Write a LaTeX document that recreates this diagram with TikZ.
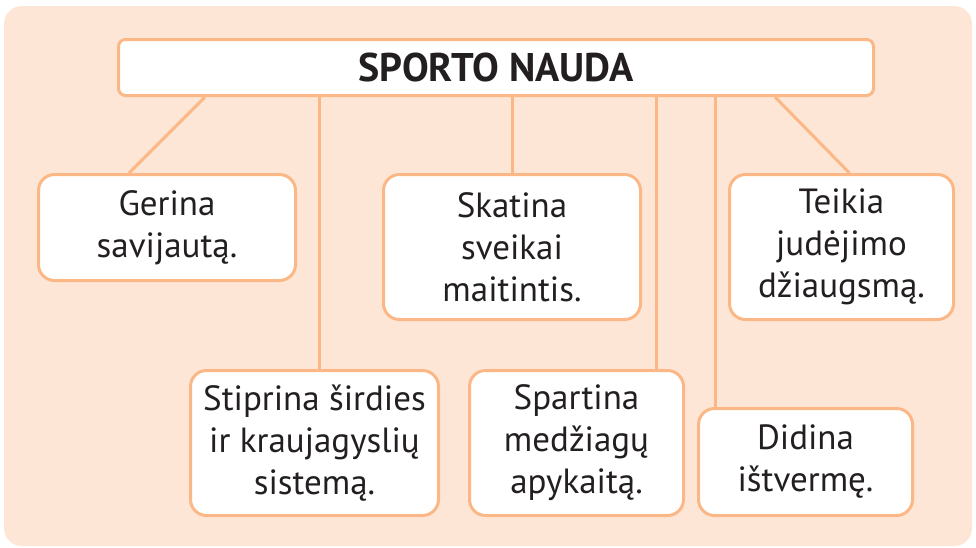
\documentclass[tikz,border=0pt]{standalone}
\usepackage{fontspec}
\setmainfont{PT Sans}
\usetikzlibrary{positioning}
\definecolor{peach}{RGB}{253,230,213}
\definecolor{edge}{RGB}{251,184,134}
\definecolor{ink}{RGB}{35,31,32}

\tikzset{
  benefit/.style={draw=edge, line width=3pt, fill=white, rounded corners=16pt,
    text=ink, align=center, font=\fontsize{35}{42}\selectfont, inner sep=0pt},
  link/.style={edge, line width=3pt}
}

\begin{document}
\begin{tikzpicture}[x=1pt, y=-1pt]
  \useasboundingbox (0,0) rectangle (976,547);
  \fill[peach, rounded corners=18pt] (4,6) rectangle (972,546);

  % title
  \node[benefit, rounded corners=7pt, minimum width=755pt, minimum height=56pt,
    font=\fontsize{40}{48}\selectfont\bfseries] (title) at (496,67.5) {SPORTO NAUDA};

  % top row
  \node[benefit, minimum width=257pt, minimum height=106pt] (gerina) at (167,227.5)
    {Gerina\\savijautą.};
  \node[benefit, minimum width=257pt, minimum height=145pt] (skatina) at (512,247)
    {Skatina\\sveikai\\maitintis.};
  \node[benefit, minimum width=224pt, minimum height=145pt] (teikia) at (841.5,247)
    {Teikia\\judėjimo\\džiaugsmą.};

  % bottom row
  \node[benefit, minimum width=248pt, minimum height=145pt] (stiprina) at (314.5,443)
    {Stiprina širdies\\ir kraujagyslių\\sistemą.};
  \node[benefit, minimum width=214pt, minimum height=145pt] (spartina) at (576.5,443)
    {Spartina\\medžiagų\\apykaitą.};
  \node[benefit, minimum width=214pt, minimum height=107pt] (didina) at (805.5,462)
    {Didina\\ištvermę.};

  % connectors
  \coordinate (g1) at ([xshift=-291pt]title.south);
  \coordinate (g2) at ([xshift=-38pt]gerina.north);
  \coordinate (t1) at ([xshift=279pt]title.south);
  \coordinate (t2) at ([xshift=8pt]teikia.north);
  \coordinate (s1) at ([xshift=5pt]stiprina.north);
  \coordinate (p1) at ([xshift=80pt]spartina.north);
  \coordinate (d1) at ([xshift=-90pt]didina.north);
  \draw[link] (g1) -- (g2);
  \draw[link] (t1) -- (t2);
  \draw[link] (s1 |- title.south) -- (s1);
  \draw[link] (skatina.north |- title.south) -- (skatina.north);
  \draw[link] (p1 |- title.south) -- (p1);
  \draw[link] (d1 |- title.south) -- (d1);
\end{tikzpicture}
\end{document}
